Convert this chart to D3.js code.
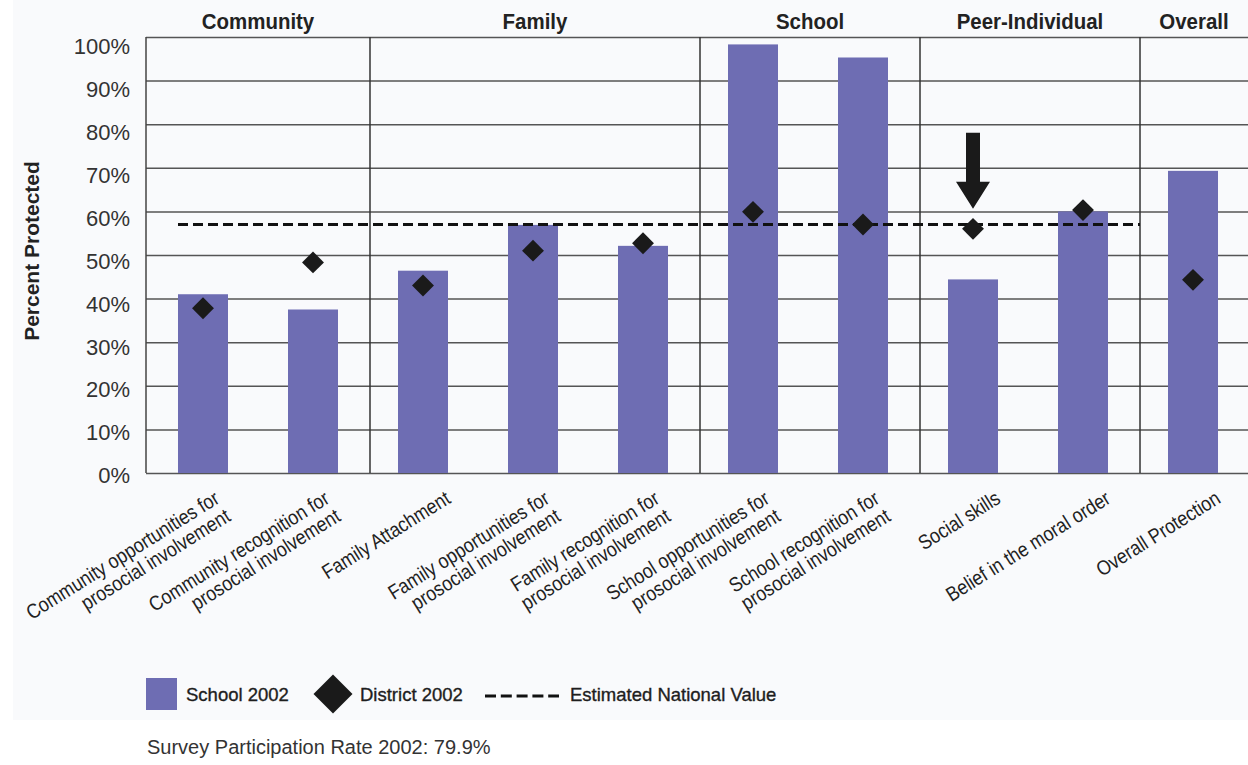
<!DOCTYPE html>
<html>
<head>
<meta charset="utf-8">
<script src="https://cdn.jsdelivr.net/npm/d3@7"></script>
<style>
  body { margin: 0; background: #fff; }
  svg { display: block; }
  text { font-family: 'Liberation Sans', Arial, sans-serif; }
</style>
</head>
<body>
<svg width="1248" height="765"></svg>
<script>
// chart data
const categories = [
  'Community opportunities for prosocial involvement',
  'Community recognition for prosocial involvement',
  'Family Attachment',
  'Family opportunities for prosocial involvement',
  'Family recognition for prosocial involvement',
  'School opportunities for prosocial involvement',
  'School recognition for prosocial involvement',
  'Social skills',
  'Belief in the moral order',
  'Overall Protection'
];
const labelLines = [
  ['Community opportunities for', 'prosocial involvement'],
  ['Community recognition for', 'prosocial involvement'],
  ['Family Attachment'],
  ['Family opportunities for', 'prosocial involvement'],
  ['Family recognition for', 'prosocial involvement'],
  ['School opportunities for', 'prosocial involvement'],
  ['School recognition for', 'prosocial involvement'],
  ['Social skills'],
  ['Belief in the moral order'],
  ['Overall Protection']
];
const domains = ['Community', 'Community', 'Family', 'Family', 'Family', 'School', 'School', 'Peer-Individual', 'Peer-Individual', 'Overall'];
const school2002 = [41, 37.5, 46.4, 56.9, 52.1, 98.3, 95.3, 44.4, 60, 69.3];
const district2002 = [37.8, 48.3, 43, 51, 52.7, 59.9, 57, 56, 60.3, 44.3];
const nationalValue = 57;
const yTicks = [0, 10, 20, 30, 40, 50, 60, 70, 80, 90, 100];
const arrowAt = 'Social skills';
const legendItems = ['School 2002', 'District 2002', 'Estimated National Value'];
const footnote = 'Survey Participation Rate 2002: 79.9%';

(function () {
  const svg = d3.select('svg');
  const width = 1248;
  const barColor = '#6e6db3';

  // background panel
  svg.append('rect').attr('x', 13).attr('width', width - 13).attr('height', 720).attr('fill', '#f9fafc');

  const left = 146, top = 37, bottom = 473;
  const x = d3.scaleBand().domain(categories).range([148, width])
    .paddingInner(0.5455).paddingOuter(0.2727);
  const y = d3.scaleLinear().domain([0, 100]).range([bottom, top]);

  // gridlines + y labels
  const yAxis = svg.append('g')
    .attr('transform', `translate(${left},0)`)
    .call(d3.axisLeft(y).tickValues(yTicks).tickSize(-(width - left)).tickFormat(d => d + '%'));
  yAxis.select('.domain').remove();
  yAxis.selectAll('.tick line').attr('stroke', '#555').attr('stroke-width', 1.5);
  yAxis.selectAll('.tick text')
    .attr('x', -16).attr('dy', d => (9.7 + d * 0.07) + 'px')
    .attr('font-family', null)
    .attr('font-size', 22).attr('fill', '#333');
  // left axis line
  svg.append('line').attr('x1', left).attr('x2', left).attr('y1', top).attr('y2', bottom)
    .attr('stroke', '#444').attr('stroke-width', 1.5);

  // domain separators
  const gap = x.step() * x.paddingInner() / 2;
  const edges = [left];
  const groupNames = [domains[0]];
  domains.forEach((d, i) => {
    if (i > 0 && d !== domains[i - 1]) {
      edges.push(x(categories[i]) - gap + 2);
      groupNames.push(d);
    }
  });
  edges.push(width);

  svg.append('g').selectAll('line').data(edges.slice(1, -1)).join('line')
    .attr('x1', d => d).attr('x2', d => d).attr('y1', top).attr('y2', bottom)
    .attr('stroke', '#333').attr('stroke-width', 1.5);

  svg.append('g').selectAll('text').data(groupNames).join('text')
    .attr('transform', (d, i) => `translate(${(edges[i] + edges[i + 1]) / 2},29) scale(0.93,1)`)
    .attr('text-anchor', 'middle')
    .attr('font-size', 22).attr('font-weight', 'bold').attr('fill', '#222')
    .text(d => d);

  // bars
  svg.append('g').selectAll('rect').data(categories).join('rect')
    .attr('x', d => x(d)).attr('width', x.bandwidth())
    .attr('y', (d, i) => y(school2002[i]))
    .attr('height', (d, i) => bottom - y(school2002[i]))
    .attr('fill', barColor);

  // national value line (stops at the Overall column)
  const overallEdge = edges[edges.length - 2];
  svg.append('line')
    .attr('x1', x(categories[0])).attr('x2', overallEdge)
    .attr('y1', y(nationalValue)).attr('y2', y(nationalValue))
    .attr('stroke', '#111').attr('stroke-width', 3).attr('stroke-dasharray', '10,5');

  // district diamonds
  const diamond = d3.symbol().type(d3.symbolSquare).size(240);
  svg.append('g').selectAll('path').data(categories).join('path')
    .attr('d', diamond)
    .attr('transform', (d, i) => `translate(${x(d) + x.bandwidth() / 2},${y(district2002[i])}) rotate(45)`)
    .attr('fill', '#1a1a1a');

  // arrow pointing at a diamond
  const ai = categories.indexOf(arrowAt);
  const ax = x(arrowAt) + x.bandwidth() / 2;
  const tip = y(district2002[ai]) - 20;
  svg.append('path')
    .attr('d', `M${ax - 7},${tip - 76} L${ax + 7},${tip - 76} L${ax + 7},${tip - 27} L${ax + 17},${tip - 27}
      L${ax},${tip} L${ax - 17},${tip - 27} L${ax - 7},${tip - 27} Z`)
    .attr('fill', '#1a1a1a');

  // rotated category labels (narrowed to mimic a condensed face)
  const ang = 32, rad = ang * Math.PI / 180, lh = 21;
  const lbl = svg.append('g').selectAll('text').data(categories).join('text')
    .attr('font-size', 20.5).attr('fill', '#222')
    .attr('text-anchor', 'end')
    .attr('transform', (d, i) => {
      const n = labelLines[i].length;
      const D = (n - 1) * lh + 4;
      const tx = x(d) + x.bandwidth() / 2 + 31 - D * Math.sin(rad);
      return `translate(${tx},502) rotate(${-ang}) scale(0.87,1)`;
    });
  lbl.selectAll('tspan').data((d, i) => labelLines[i]).join('tspan')
    .attr('x', 0).attr('y', (d, j) => j * lh)
    .text(d => d);

  // y title
  svg.append('text')
    .attr('transform', 'translate(39,251) rotate(-90)')
    .attr('text-anchor', 'middle')
    .attr('font-size', 21).attr('font-weight', 'bold').attr('fill', '#222')
    .text('Percent Protected');

  // legend
  const lg = svg.append('g').attr('font-size', 18.5).attr('fill', '#1e1e1e')
    .attr('stroke', '#1e1e1e').attr('stroke-width', 0.35);
  lg.append('rect').attr('x', 146).attr('y', 678).attr('width', 31).attr('height', 32)
    .attr('fill', barColor).attr('stroke', 'none');
  lg.append('text').attr('x', 186).attr('y', 701).text(legendItems[0]);
  lg.append('path').attr('d', d3.symbol().type(d3.symbolSquare).size(760))
    .attr('transform', 'translate(333,694) rotate(45)').attr('fill', '#1a1a1a').attr('stroke', 'none');
  lg.append('text').attr('x', 360).attr('y', 701).text(legendItems[1]);
  lg.append('line').attr('x1', 485).attr('x2', 559).attr('y1', 696).attr('y2', 696)
    .attr('stroke', '#111').attr('stroke-width', 3).attr('stroke-dasharray', '11,4.8');
  lg.append('text').attr('x', 570).attr('y', 701).text(legendItems[2]);

  svg.append('text')
    .attr('x', 147).attr('y', 754)
    .attr('font-size', 20).attr('fill', '#333')
    .text(footnote);
})();
</script>
</body>
</html>
